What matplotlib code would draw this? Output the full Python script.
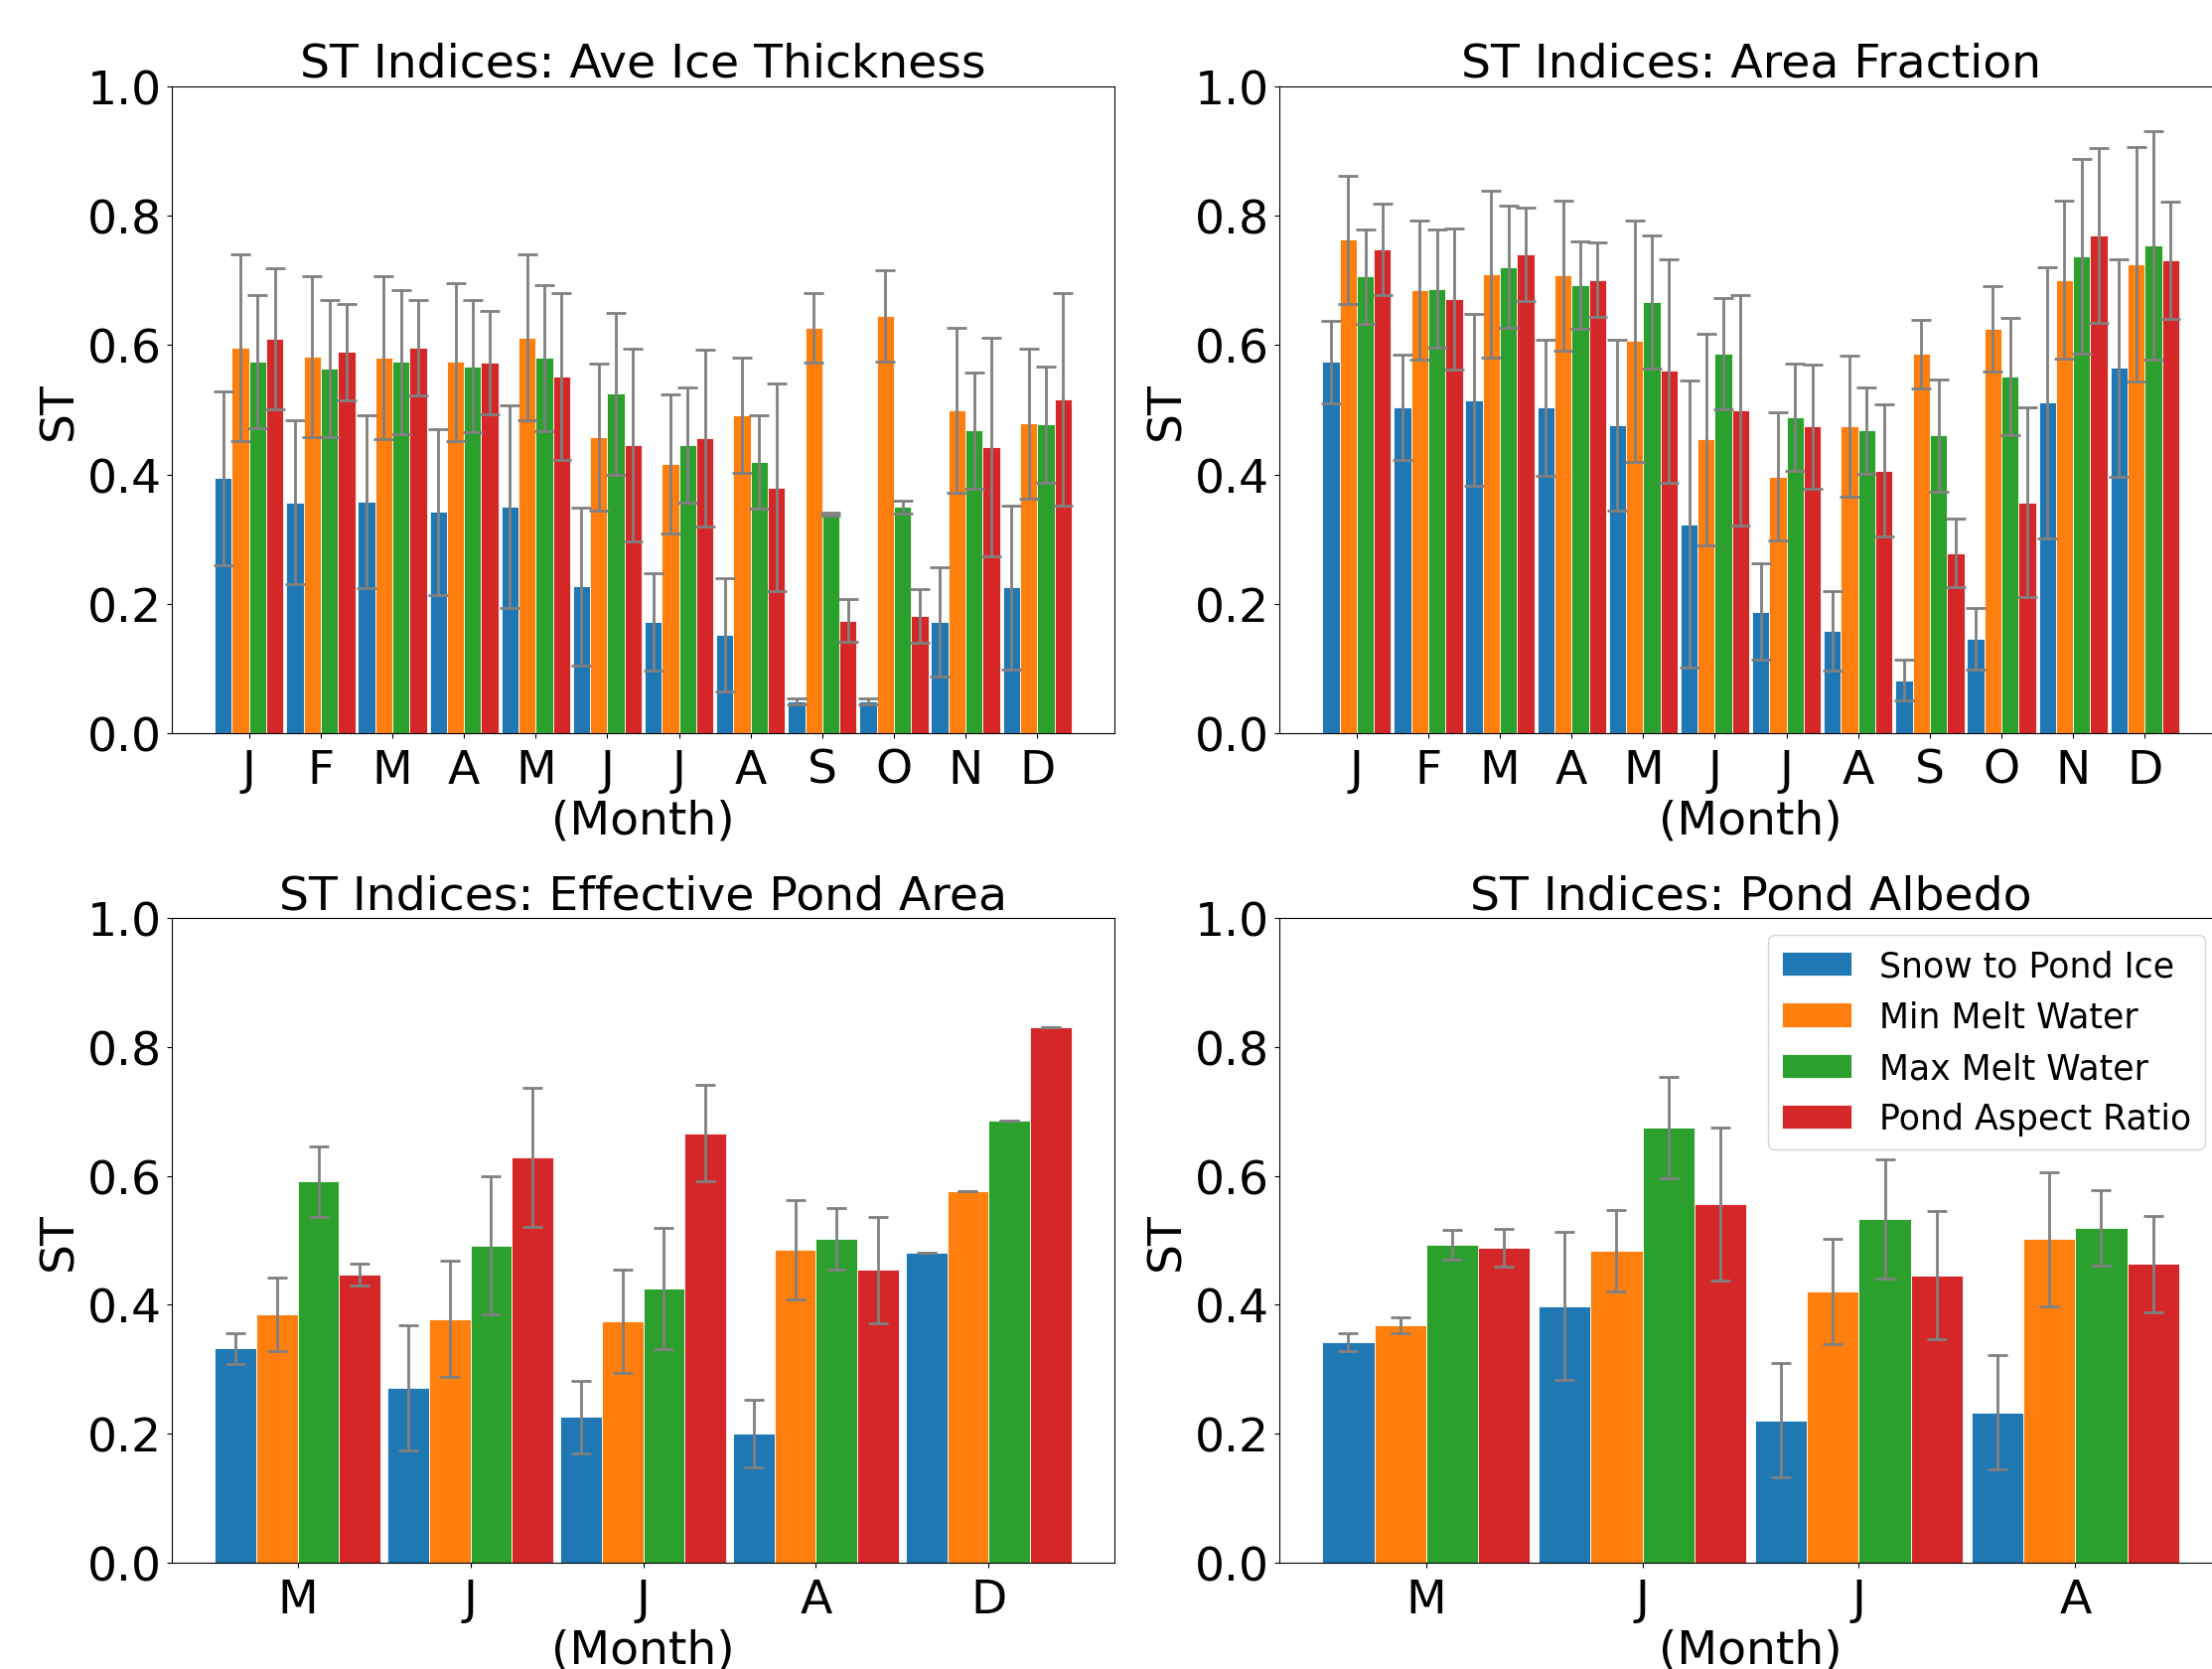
import matplotlib
matplotlib.use('Agg')
import matplotlib.pyplot as plt
import numpy as np

# Series names and colours
series = ['Snow to Pond Ice', 'Min Melt Water', 'Max Melt Water', 'Pond Aspect Ratio']
colors = ['#1f77b4', '#ff7f0e', '#2ca02c', '#d62728']

# Month labels for each panel
months_all = ['J', 'F', 'M', 'A', 'M', 'J', 'J', 'A', 'S', 'O', 'N', 'D']
months_pond = ['M', 'J', 'J', 'A', 'D']
months_albedo = ['M', 'J', 'J', 'A']

# Ave Ice Thickness: mean and error (half range) per series
thick_snow = [0.394, 0.357, 0.358, 0.342, 0.350, 0.227, 0.172, 0.152, 0.049, 0.049, 0.172, 0.225]
thick_snow_err = [0.134, 0.127, 0.134, 0.128, 0.157, 0.122, 0.076, 0.087, 0.004, 0.004, 0.085, 0.126]
thick_min = [0.596, 0.582, 0.581, 0.574, 0.612, 0.458, 0.416, 0.492, 0.627, 0.645, 0.499, 0.479]
thick_min_err = [0.144, 0.125, 0.126, 0.122, 0.128, 0.114, 0.108, 0.089, 0.054, 0.071, 0.128, 0.116]
thick_max = [0.575, 0.564, 0.574, 0.567, 0.580, 0.525, 0.445, 0.419, 0.339, 0.350, 0.468, 0.477]
thick_max_err = [0.103, 0.106, 0.111, 0.102, 0.113, 0.125, 0.089, 0.072, 0.002, 0.010, 0.090, 0.090]
thick_asp = [0.610, 0.589, 0.596, 0.573, 0.551, 0.445, 0.456, 0.380, 0.174, 0.181, 0.443, 0.516]
thick_asp_err = [0.109, 0.074, 0.074, 0.080, 0.129, 0.149, 0.137, 0.160, 0.033, 0.041, 0.169, 0.165]

# Area Fraction
area_snow = [0.574, 0.504, 0.515, 0.503, 0.476, 0.323, 0.188, 0.158, 0.082, 0.146, 0.511, 0.565]
area_snow_err = [0.064, 0.081, 0.133, 0.105, 0.132, 0.222, 0.074, 0.061, 0.032, 0.048, 0.210, 0.168]
area_min = [0.763, 0.685, 0.709, 0.708, 0.606, 0.454, 0.397, 0.474, 0.586, 0.625, 0.701, 0.725]
area_min_err = [0.099, 0.108, 0.129, 0.116, 0.186, 0.164, 0.099, 0.109, 0.053, 0.066, 0.122, 0.181]
area_max = [0.706, 0.687, 0.721, 0.693, 0.666, 0.586, 0.488, 0.468, 0.460, 0.551, 0.737, 0.754]
area_max_err = [0.073, 0.091, 0.094, 0.068, 0.103, 0.086, 0.083, 0.067, 0.087, 0.091, 0.151, 0.177]
area_asp = [0.748, 0.671, 0.740, 0.701, 0.560, 0.499, 0.474, 0.406, 0.278, 0.357, 0.770, 0.731]
area_asp_err = [0.071, 0.109, 0.072, 0.058, 0.173, 0.178, 0.096, 0.102, 0.053, 0.147, 0.135, 0.090]

# Effective Pond Area
pond_snow = [0.332, 0.271, 0.226, 0.200, 0.481]
pond_snow_err = [0.024, 0.097, 0.056, 0.052, 0.0]
pond_min = [0.385, 0.378, 0.375, 0.486, 0.577]
pond_min_err = [0.057, 0.090, 0.080, 0.077, 0.0]
pond_max = [0.591, 0.492, 0.425, 0.502, 0.686]
pond_max_err = [0.055, 0.107, 0.094, 0.048, 0.0]
pond_asp = [0.447, 0.629, 0.666, 0.454, 0.830]
pond_asp_err = [0.017, 0.108, 0.075, 0.082, 0.0]

# Pond Albedo
alb_snow = [0.342, 0.398, 0.221, 0.233]
alb_snow_err = [0.014, 0.115, 0.088, 0.089]
alb_min = [0.368, 0.484, 0.421, 0.502]
alb_min_err = [0.012, 0.063, 0.082, 0.104]
alb_max = [0.493, 0.675, 0.533, 0.519]
alb_max_err = [0.023, 0.078, 0.093, 0.059]
alb_asp = [0.488, 0.556, 0.446, 0.463]
alb_asp_err = [0.029, 0.119, 0.099, 0.075]

panels = [
    ('ST Indices: Ave Ice Thickness', months_all,
     [thick_snow, thick_min, thick_max, thick_asp],
     [thick_snow_err, thick_min_err, thick_max_err, thick_asp_err]),
    ('ST Indices: Area Fraction', months_all,
     [area_snow, area_min, area_max, area_asp],
     [area_snow_err, area_min_err, area_max_err, area_asp_err]),
    ('ST Indices: Effective Pond Area', months_pond,
     [pond_snow, pond_min, pond_max, pond_asp],
     [pond_snow_err, pond_min_err, pond_max_err, pond_asp_err]),
    ('ST Indices: Pond Albedo', months_albedo,
     [alb_snow, alb_min, alb_max, alb_asp],
     [alb_snow_err, alb_min_err, alb_max_err, alb_asp_err]),
]

fig = plt.figure(figsize=(22.27, 16.81), dpi=100)
positions = [[0.0777, 0.5604, 0.4261, 0.3873],
             [0.5784, 0.5604, 0.4261, 0.3873],
             [0.0777, 0.0637, 0.4261, 0.3860],
             [0.5784, 0.0637, 0.4261, 0.3860]]

width = 0.24
for k, (title, labels, vals, errs) in enumerate(panels):
    ax = fig.add_axes(positions[k])
    x = np.arange(len(labels))
    for i in range(4):
        ax.bar(x + (i - 1.5) * width, vals[i], width, yerr=errs[i],
               color=colors[i], edgecolor='white', linewidth=0.6,
               ecolor='gray', capsize=7, label=series[i],
               error_kw={'elinewidth': 2, 'capthick': 2})
    ax.set_xticks(x)
    ax.set_xticklabels(labels)
    ax.set_ylim(0, 1.0)
    ax.set_yticks([0.0, 0.2, 0.4, 0.6, 0.8, 1.0])
    ax.set_title(title, fontsize=34)
    ax.set_ylabel('ST', fontsize=34)
    ax.set_xlabel('(Month)', fontsize=34, labelpad=4)
    ax.tick_params(axis='both', which='major', labelsize=34)
    ax.tick_params(axis='x', pad=7)
    if k == 3:
        ax.legend(loc='upper right', fontsize=25)

fig.savefig('out.png', dpi=100)
